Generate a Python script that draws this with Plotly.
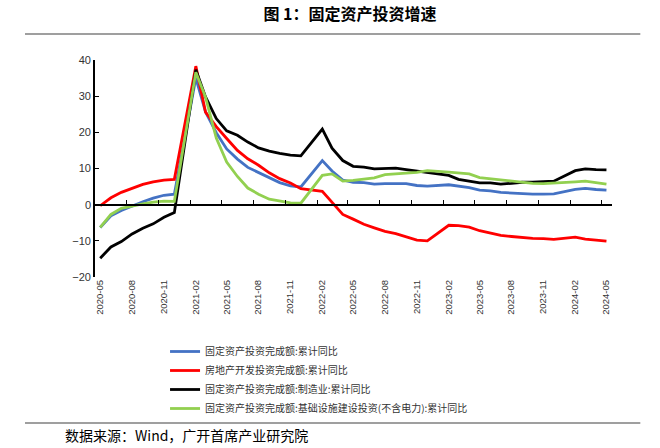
import plotly.graph_objects as go
import pandas as pd

months = [
    "2020-05", "2020-06", "2020-07", "2020-08", "2020-09", "2020-10", "2020-11", "2020-12",
    "2021-02", "2021-03", "2021-04", "2021-05", "2021-06", "2021-07", "2021-08", "2021-09", "2021-10", "2021-11", "2021-12",
    "2022-02", "2022-03", "2022-04", "2022-05", "2022-06", "2022-07", "2022-08", "2022-09", "2022-10", "2022-11", "2022-12",
    "2023-02", "2023-03", "2023-04", "2023-05", "2023-06", "2023-07", "2023-08", "2023-09", "2023-10", "2023-11", "2023-12",
    "2024-02", "2024-03", "2024-04", "2024-05",
]

fai_total = [
    -6.3, -3.1, -1.6, -0.3, 0.8, 1.8, 2.6, 2.9,
    35.0, 25.6, 19.9, 15.4, 12.6, 10.3, 8.9, 7.3, 6.1, 5.2, 4.9,
    12.2, 9.3, 6.8, 6.2, 6.1, 5.7, 5.8, 5.9, 5.8, 5.3, 5.1,
    5.5, 5.1, 4.7, 4.0, 3.8, 3.4, 3.2, 3.1, 2.9, 2.9, 3.0,
    4.2, 4.5, 4.2, 4.0,
]

real_estate = [
    -0.3, 1.9, 3.4, 4.6, 5.6, 6.3, 6.8, 7.0,
    38.3, 25.6, 21.6, 18.3, 15.0, 12.7, 10.9, 8.8, 7.2, 6.0, 4.4,
    3.7, 0.7, -2.7, -4.0, -5.4, -6.4, -7.4, -8.0, -8.8, -9.8, -10.0,
    -5.7, -5.8, -6.2, -7.2, -7.9, -8.5, -8.8, -9.1, -9.3, -9.4, -9.6,
    -9.0, -9.5, -9.8, -10.1,
]

manufacturing = [
    -14.8, -11.7, -10.2, -8.1, -6.5, -5.3, -3.5, -2.2,
    37.3, 29.8, 23.8, 20.4, 19.2, 17.3, 15.7, 14.8, 14.2, 13.7, 13.5,
    20.9, 15.6, 12.2, 10.6, 10.4, 9.9, 10.0, 10.1, 9.7, 9.3, 9.1,
    8.1, 7.0, 6.4, 6.0, 6.0, 5.7, 5.9, 6.2, 6.2, 6.3, 6.5,
    9.4, 9.9, 9.7, 9.6,
]

infrastructure = [
    -6.3, -2.7, -1.0, -0.3, 0.2, 0.7, 1.0, 0.9,
    36.6, 29.7, 18.4, 11.8, 7.8, 4.6, 2.9, 1.5, 1.0, 0.5, 0.4,
    8.1, 8.5, 6.5, 6.7, 7.1, 7.4, 8.3, 8.6, 8.7, 8.9, 9.4,
    9.0, 8.8, 8.5, 7.5, 7.2, 6.8, 6.4, 6.2, 5.9, 5.8, 5.9,
    6.3, 6.5, 6.0, 5.7,
]

series_names = [
    "固定资产投资完成额:累计同比",
    "房地产开发投资完成额:累计同比",
    "固定资产投资完成额:制造业:累计同比",
    "固定资产投资完成额:基础设施建设投资(不含电力):累计同比",
]
series_values = [fai_total, real_estate, manufacturing, infrastructure]
series_colors = ["#4472C4", "#FF0000", "#000000", "#92D050"]

title_text = "图 1：固定资产投资增速"
source_text = "数据来源：Wind，广开首席产业研究院"

Y_MIN, Y_MAX, Y_STEP = -20, 40, 10
X_START, X_END = "2020-05-01", "2024-06-01"

# ---- layout geometry (pixels) ----
W, H = 660, 448
PL, PR, PT, PB = 95, 611.7, 60, 277   # plot area edges


def px_x(px):
    return (px - PL) / (PR - PL)


def px_y(py):
    return (PB - py) / (PB - PT)


x_dates = pd.to_datetime(months) + pd.Timedelta(days=15)

fig = go.Figure()
for name, vals, col in zip(series_names, series_values, series_colors):
    fig.add_trace(go.Scatter(
        x=x_dates, y=vals, name=name, mode="lines",
        line=dict(color=col, width=2.8),
        xaxis="x", yaxis="y",
    ))

# invisible helper trace so the zero-line axis (x2) is drawn
fig.add_trace(go.Scatter(
    x=x_dates, y=fai_total, xaxis="x2", yaxis="y", mode="lines",
    line=dict(width=0, color="rgba(0,0,0,0)"), showlegend=False, hoverinfo="skip",
))

tick_font = dict(family="Liberation Sans, Arial, sans-serif", size=11, color="#333333")

fig.update_layout(
    width=W, height=H, autosize=False,
    margin=dict(l=PL, r=W - PR, t=PT, b=H - PB, pad=0),
    paper_bgcolor="white", plot_bgcolor="white",
    title=dict(
        text="<b>" + title_text + "</b>",
        x=350 / W, xref="container", xanchor="center",
        y=1 - 14 / H, yref="container", yanchor="middle",
        font=dict(family="Noto Sans CJK SC", size=16, color="#000000"),
    ),
    xaxis=dict(
        type="date", range=[X_START, X_END],
        tick0="2020-05-01", dtick="M3", tickformat="%Y-%m",
        tickangle=-90, ticklabelshift=5, ticks="", showline=False,
        showgrid=False, zeroline=False,
        tickfont=dict(family="Liberation Sans, Arial, sans-serif", size=9.5, color="#333333"),
    ),
    xaxis2=dict(
        type="date", range=[X_START, X_END], overlaying="x",
        anchor="free", position=(0 - Y_MIN) / (Y_MAX - Y_MIN),
        tick0="2020-05-01", dtick="M3",
        showticklabels=False, ticks="inside", ticklen=4, tickwidth=1.2, tickcolor="#000000",
        showline=True, linecolor="#000000", linewidth=1.6,
        showgrid=False, zeroline=False,
    ),
    yaxis=dict(
        range=[Y_MIN, Y_MAX], dtick=Y_STEP, tick0=Y_MIN,
        ticks="inside", ticklen=4, tickwidth=1.2, tickcolor="#000000",
        showline=True, linecolor="#000000", linewidth=1.6,
        showgrid=False, zeroline=False, tickfont=tick_font,
    ),
    legend=dict(
        orientation="v", x=px_x(165), y=px_y(337), xanchor="left", yanchor="top",
        font=dict(family="Noto Sans CJK SC", size=10, color="#333333"),
        bgcolor="rgba(0,0,0,0)", itemwidth=30, tracegroupgap=0,
    ),
    showlegend=True,
)

fig.add_annotation(
    text=source_text, xref="paper", yref="paper",
    x=px_x(63), y=px_y(435), xanchor="left", yanchor="middle", showarrow=False,
    font=dict(family="Noto Sans CJK SC", size=14, color="#000000"),
)

for py in (34, 423):
    fig.add_shape(
        type="line", xref="paper", yref="paper",
        x0=px_x(25), x1=px_x(640), y0=px_y(py), y1=px_y(py),
        line=dict(color="#404040", width=1.2),
    )

fig.write_html("out.html")
